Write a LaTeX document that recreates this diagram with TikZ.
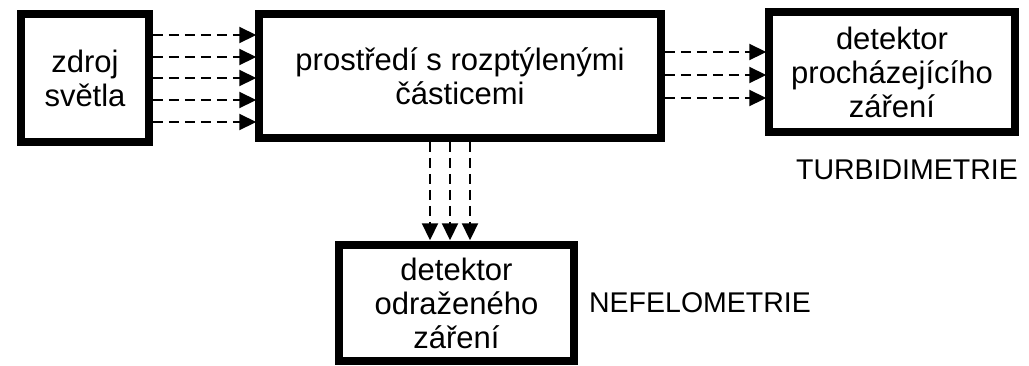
\documentclass[tikz,border=0pt]{standalone}
\usepackage{fontspec}
\setmainfont{Liberation Sans}
\usetikzlibrary{arrows.meta}
\begin{document}
\begin{tikzpicture}[x=1pt,y=-1pt,
  blok/.style={draw=black,line width=7.5pt,fill=white,inner sep=0pt,align=center,
     font=\fontsize{31}{34}\selectfont},
  tok/.style={draw=black,line width=2.2pt,dash pattern=on 10pt off 6pt,
     -{Triangle[length=17pt,width=16pt,sep=0pt]}},
  stitek/.style={font=\fontsize{28.5}{32}\selectfont,inner sep=0pt}]
\useasboundingbox (0,0) rectangle (1029,365);
\node[blok,minimum width=128pt,minimum height=128pt] (zdroj) at (85,78) {zdroj\\světla};
\node[blok,minimum width=402pt,minimum height=124pt] (prost) at (460,76) {prostředí s rozptýlenými\\částicemi};
\node[blok,minimum width=246pt,minimum height=120pt] (turb) at (892,72) {detektor\\procházejícího\\záření};
\node[blok,minimum width=235pt,minimum height=116pt] (nef) at (456.5,303) {detektor\\odraženého\\záření};
\node[stitek] (lturb) at (907,170) {TURBIDIMETRIE};
\node[stitek] (lnef) at (700,303) {NEFELOMETRIE};
\foreach \y in {35,57,78,100,122}
  \draw[tok] (zdroj.east |- 0,\y) -- ([xshift=1pt]prost.west |- 0,\y);
\foreach \y in {52,75,98}
  \draw[tok] (prost.east |- 0,\y) -- ([xshift=1pt]turb.west |- 0,\y);
\foreach \x in {430,450,470}
  \draw[tok] (prost.south -| \x,0) -- ([yshift=1pt]nef.north -| \x,0);
\end{tikzpicture}
\end{document}
